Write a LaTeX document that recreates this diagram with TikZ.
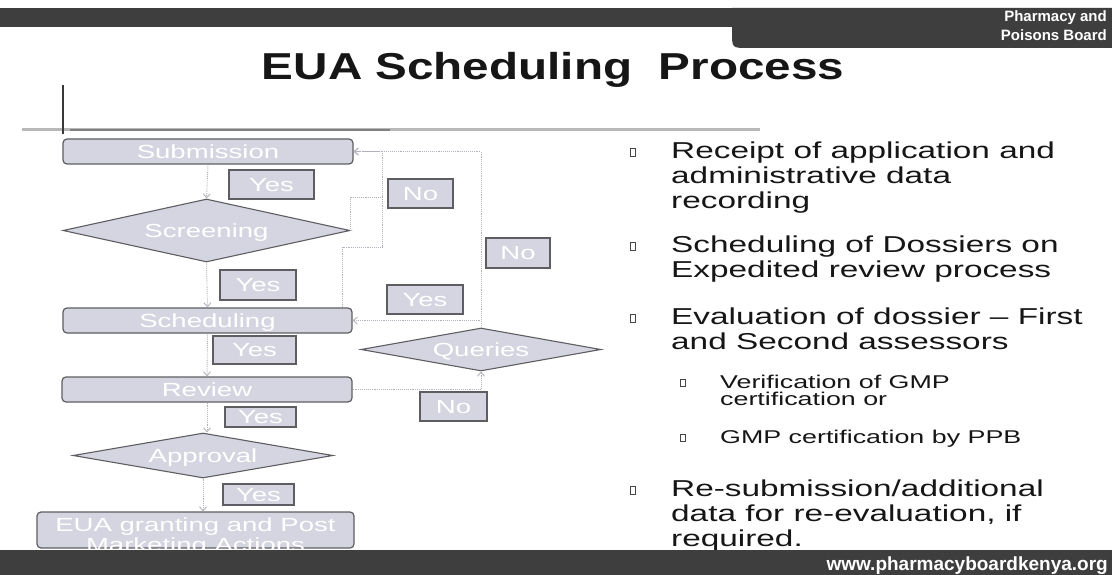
\documentclass[tikz,border=0pt]{standalone}
\usepackage{fontspec}
\setmainfont{Liberation Sans}
\newfontfamily\wide[FakeStretch=1.45]{Liberation Sans}
\newfontfamily\titlefont[FakeStretch=1.27]{Liberation Sans}
\usetikzlibrary{shapes.geometric,arrows.meta}
\definecolor{band}{HTML}{3E3E3E}
\definecolor{boxfill}{HTML}{D5D5E1}
\definecolor{boxline}{HTML}{5E5E62}
\definecolor{linkgray}{HTML}{B2B2BC}
\definecolor{rulegray}{HTML}{B8B8B8}
\definecolor{ink}{HTML}{161616}
\tikzset{
  stage/.style={draw=boxline, fill=boxfill, line width=1.2pt, rounded corners=4pt,
    inner sep=0pt, text depth=0pt, text=white, font=\wide\fontsize{19}{20}\selectfont},
  choice/.style={diamond, draw=boxline, fill=boxfill, line width=1.1pt, shape aspect=4.5,
    inner sep=0pt, text depth=0pt, text=white, font=\wide\fontsize{19}{20}\selectfont},
  answer/.style={draw=boxline, fill=boxfill, line width=1.2pt, inner sep=0pt,
    text depth=0pt, text=white, font=\wide\fontsize{19}{20}\selectfont},
  link/.style={draw=linkgray, densely dotted, line width=0.9pt},
  tip/.style={-{Straight Barb[length=4pt,width=7pt]}},
  bul/.style={draw=ink!80, line width=0.7pt, minimum width=5pt, minimum height=8pt, inner sep=0pt},
  subbul/.style={bul, minimum width=4.5pt, minimum height=7pt},
  point/.style={anchor=base west, align=left, inner sep=0pt, text=ink,
    font=\wide\fontsize{23}{25}\selectfont},
  subpoint/.style={point, font=\wide\fontsize{18.5}{17.5}\selectfont}
}
\begin{document}
\begin{tikzpicture}[x=1pt, y=-1pt]
  \fill[white] (0,0) rectangle (1112,575);
  \useasboundingbox (0,0) rectangle (1112,575);

  % header band and tab
  \fill[band] (0,8) rectangle (1112,27);
  \fill[band] (732,8) -- (732,32) .. controls (732,48) .. (748,48) -- (1112,48) -- (1112,8) -- cycle;
  \node[anchor=north east, align=right, inner sep=0pt, text=white,
    font=\bfseries\fontsize{15}{19.5}\selectfont] (ppb) at (1107,10) {Pharmacy and\\Poisons Board};

  % title and rule
  \node[anchor=base, inner sep=0pt, text=ink, font=\titlefont\bfseries\fontsize{37.5}{40}\selectfont]
    (title) at (553,80) {EUA Scheduling\ \ Process};
  \draw[rulegray, line width=3pt] (22,130) -- (760,130);
  \draw[gray, line width=2pt] (70,130) -- (390,130);
  \draw[ink!85, line width=1.6pt] (63,85) -- (63,134);

  % flow chart
  \node[stage, minimum width=290pt, minimum height=25pt] (sub) at (208,151.5) {Submission};
  \node[choice, minimum width=287pt, minimum height=63pt] (scr) at (206.5,230.5) {Screening};
  \node[stage, minimum width=289pt, minimum height=25pt] (sch) at (207.5,320.5) {Scheduling};
  \node[stage, minimum width=290pt, minimum height=25pt] (rev) at (207,389.5) {Review};
  \node[choice, minimum width=260pt, minimum height=45pt] (appr) at (203,455.5) {Approval};
  \node[stage, minimum width=317pt, minimum height=36pt] (eua) at (195.5,530) {};
  \node[align=center, inner sep=0pt, text=white, font=\wide\fontsize{19}{20}\selectfont]
    (euatext) at (195.5,537) {EUA granting and Post\\Marketing Actions};
  \node[choice, minimum width=240pt, minimum height=43pt] (que) at (481,349.5) {Queries};

  \node[answer, minimum width=85pt, minimum height=29pt] (yes1) at (271.5,184.5) {Yes};
  \node[answer, minimum width=76pt, minimum height=30pt] (yes2) at (258,285) {Yes};
  \node[answer, minimum width=83pt, minimum height=28pt] (yes3) at (254.5,350) {Yes};
  \node[answer, minimum width=71pt, minimum height=20pt] (yes4) at (260.5,417) {Yes};
  \node[answer, minimum width=71pt, minimum height=21pt] (yes5) at (258.5,494.5) {Yes};
  \node[answer, minimum width=65pt, minimum height=29pt] (noa) at (420.5,193.5) {No};
  \node[answer, minimum width=64pt, minimum height=30pt] (nob) at (518,253) {No};
  \node[answer, minimum width=76pt, minimum height=29pt] (yesr) at (425,299.5) {Yes};
  \node[answer, minimum width=67pt, minimum height=29pt] (noc) at (453.5,406.5) {No};

  \coordinate (loop) at (382,197);
  \begin{scope}[link]
    \draw[tip] (sub.south) -- (scr.north);
    \draw[tip] (scr.south) -- (sch.north);
    \draw[tip] (sch.south) -- (rev.north);
    \draw[tip] (rev.south) -- (rev.south |- appr.north);
    \draw[tip] (appr.south) -- (appr.south |- eua.north);
    \draw[tip] (scr.east) |- (loop) |- (sub.east);
    \draw (loop) -- ++(0,50) -| ([xshift=-10pt]sch.north east);
    \draw[tip] (que.north) |- (sub.east);
    \draw[tip] (que.north) |- (sch.east);
    \draw[tip] (rev.east) -| (que.south);
  \end{scope}

  % points on the right (base = last line)
  \node[bul] (b1) at (633,152) {};
  \node[point] (p1) at (671,208) {Receipt of application and\\administrative data\\recording};
  \node[bul] (b2) at (633,246) {};
  \node[point] (p2) at (671,277) {Scheduling of Dossiers on\\Expedited review process};
  \node[bul] (b3) at (633,318) {};
  \node[point] (p3) at (671,349) {Evaluation of dossier – First\\and Second assessors};
  \node[subbul] (b3a) at (683,383) {};
  \node[subpoint] (p3a) at (720,405.5) {Verification of GMP\\certification or};
  \node[subbul] (b3b) at (683,438) {};
  \node[subpoint] (p3b) at (720,443) {GMP certification by PPB};
  \node[bul] (b4) at (633,490) {};
  \node[point] (p4) at (671,546) {Re-submission/additional\\data for re-evaluation, if\\required.};

  % footer band
  \fill[band] (0,550) rectangle (1112,575);
  \node[anchor=base east, inner sep=0pt, text=white, font=\bfseries\fontsize{19}{20}\selectfont]
    (web) at (1108,570) {www.pharmacyboardkenya.org};
\end{tikzpicture}
\end{document}
